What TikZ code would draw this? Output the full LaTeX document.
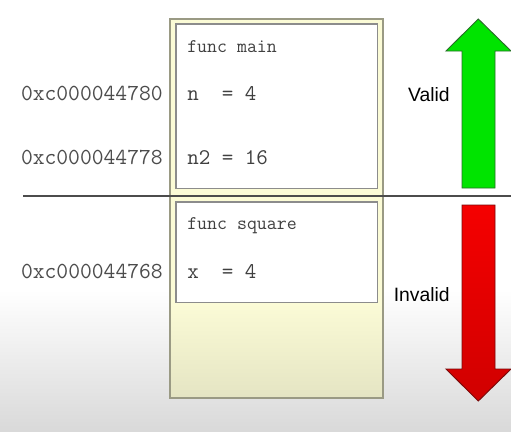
\documentclass[tikz,border=0pt]{standalone}
\usepackage{fontspec}
\usepackage{xcolor}
\newfontfamily\labelfont{Liberation Sans}

\definecolor{stackfill}{HTML}{FBFBD6}
\definecolor{stackedge}{HTML}{9A9A84}
\definecolor{validgreen}{HTML}{00E400}
\definecolor{validedge}{HTML}{2A6E2A}
\definecolor{invalidred}{HTML}{F50000}
\definecolor{invalidedge}{HTML}{7A0A0A}

\tikzset{
    slot/.style={draw=gray!90, fill=white, line width=0.9pt},
    vartext/.style={anchor=base west, inner sep=0pt, text=black!75, font=\ttfamily\fontsize{16.8}{18}\selectfont},
    functext/.style={anchor=base west, inner sep=0pt, text=black!75, font=\ttfamily\fontsize{14.5}{16}\selectfont},
    addrtext/.style={anchor=base east, inner sep=0pt, text=black!70, font=\ttfamily\fontsize{17.2}{18}\selectfont},
    sidetext/.style={anchor=base east, inner sep=0pt, font=\labelfont\fontsize{14.5}{16}\selectfont}
}

\begin{document}
\begin{tikzpicture}[x=0.75pt, y=-0.75pt]
        \useasboundingbox (0, 0) rectangle (511, 432);
        % background
        \fill[white] (0, 0) rectangle (511, 290);
        \shade[top color=white, bottom color=black!15] (0, 290) rectangle (511, 432);

        % stack column
        \fill[stackfill] (170, 19) rectangle (383, 303);
        \shade[top color=stackfill, bottom color=black!9!stackfill] (170, 303) rectangle (383, 398);
        \draw[stackedge, line width=0.9pt] (170, 19) rectangle (383, 398);

        % frames
        \draw[slot] (176, 24) rectangle (377.5, 188.5);
        \draw[slot] (176, 202) rectangle (377.5, 302.5);

        \draw[black!70, line width=1.4pt] (23, 196.3) -- (511, 196.3);

        \node[functext] (fmain) at (187, 52) {func main};
        \node[vartext] (vn) at (187, 100.5) {n\ \ = 4};
        \node[vartext] (vn2) at (187, 164) {n2 = 16};
        \node[functext] (fsquare) at (187, 229) {func square};
        \node[vartext] (vx) at (187, 278) {x\ \ = 4};

        \node[addrtext] (an) at (163, 100.5) {0xc000044780};
        \node[addrtext] (an2) at (163, 164) {0xc000044778};
        \node[addrtext] (ax) at (163, 278) {0xc000044768};

        % arrows
        \draw[fill=validgreen, draw=validedge, line width=0.7pt]
            (462, 188) -- (462, 51) -- (446, 51) -- (478.3, 19) -- (511, 51) -- (495, 51) -- (495, 188) -- cycle;
        \shade[top color=invalidred, bottom color=invalidred!85!black, draw=invalidedge, line width=0.7pt]
            (462, 205) -- (462, 369) -- (446, 369) -- (478.3, 401) -- (511, 369) -- (495, 369) -- (495, 205) -- cycle;

        \node[sidetext] (valid) at (450, 101) {Valid};
        \node[sidetext] (invalid) at (450, 301) {Invalid};
    \end{tikzpicture}
\end{document}
